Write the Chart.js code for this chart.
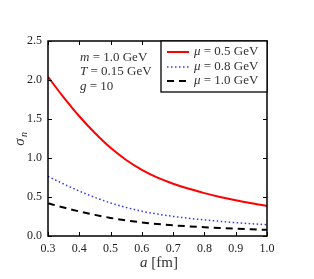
<!DOCTYPE html>
<html>
<head>
<meta charset="utf-8">
<script src="https://cdn.jsdelivr.net/npm/chart.js@4/dist/chart.umd.min.js"></script>
<style>
  html, body { margin: 0; padding: 0; background: #fff; }
</style>
</head>
<body>
<canvas id="c" width="314" height="279"></canvas>
<script>
// a [fm] sample points
const aValues = [0.3, 0.35, 0.4, 0.45, 0.5, 0.55, 0.6, 0.65, 0.7, 0.75, 0.8, 0.85, 0.9, 0.95, 1.0];
// sigma_n
const sigmaMu05 = [2.04, 1.778, 1.535, 1.32, 1.13, 0.975, 0.848, 0.748, 0.67, 0.605, 0.55, 0.50, 0.457, 0.419, 0.385];
const sigmaMu08 = [0.765, 0.667, 0.576, 0.495, 0.424, 0.366, 0.318, 0.281, 0.251, 0.227, 0.206, 0.188, 0.171, 0.157, 0.145];
const sigmaMu10 = [0.42, 0.365, 0.315, 0.271, 0.232, 0.20, 0.174, 0.153, 0.137, 0.124, 0.113, 0.103, 0.094, 0.086, 0.079];
const muLabels = ["0.5", "0.8", "1.0"];
const xTicks = [0.3, 0.4, 0.5, 0.6, 0.7, 0.8, 0.9, 1.0];
const yTicks = [0.0, 0.5, 1.0, 1.5, 2.0, 2.5];

const SERIF = '"Liberation Serif", "DejaVu Serif", serif';

function toPoints(ys) {
  return aValues.map((a, i) => ({ x: a, y: ys[i] }));
}

// draw text made of [string, italic] parts, left aligned
function drawParts(ctx, parts, x, y, size) {
  let cx = x;
  parts.forEach(([s, it]) => {
    ctx.font = (it ? "italic " : "") + size + "px " + SERIF;
    ctx.fillText(s, cx, y);
    cx += ctx.measureText(s).width;
  });
  return cx;
}

const decorations = {
  id: "decorations",
  afterDatasetsDraw(chart) {
    const ctx = chart.ctx;
    const area = chart.chartArea;
    const xs = chart.scales.x;
    const ys = chart.scales.y;
    ctx.save();

    // inner ticks on all four sides
    ctx.strokeStyle = "#000";
    ctx.lineWidth = 1;
    xTicks.forEach(v => {
      const px = Math.round(xs.getPixelForValue(v)) + 0.5;
      ctx.beginPath();
      ctx.moveTo(px, area.bottom); ctx.lineTo(px, area.bottom - 4);
      ctx.moveTo(px, area.top); ctx.lineTo(px, area.top + 4);
      ctx.stroke();
    });
    yTicks.forEach(v => {
      const py = Math.round(ys.getPixelForValue(v)) + 0.5;
      ctx.beginPath();
      ctx.moveTo(area.left, py); ctx.lineTo(area.left + 4, py);
      ctx.moveTo(area.right, py); ctx.lineTo(area.right - 4, py);
      ctx.stroke();
    });

    // frame
    ctx.lineWidth = 1.5;
    ctx.strokeRect(area.left, area.top, area.right - area.left, area.bottom - area.top);

    // parameter text
    ctx.fillStyle = "#333";
    ctx.textBaseline = "middle";
    drawParts(ctx, [["m", true], [" = 1.0 GeV", false]], 80, 58, 13);
    drawParts(ctx, [["T", true], [" = 0.15 GeV", false]], 80, 72, 13);
    drawParts(ctx, [["g", true], [" = 10", false]], 80, 87, 13);

    // legend box
    const lx = 161, ly = area.top, lw = area.right - 161, lh = 51;
    ctx.fillStyle = "#fff";
    ctx.fillRect(lx, ly, lw, lh);
    ctx.strokeStyle = "#000";
    ctx.lineWidth = 1.3;
    ctx.strokeRect(lx, ly, lw, lh);
    const rows = [52, 67, 81];
    chart.data.datasets.forEach((ds, i) => {
      ctx.strokeStyle = ds.borderColor;
      ctx.lineWidth = ds.borderWidth;
      ctx.setLineDash(ds.borderDash || []);
      ctx.beginPath();
      ctx.moveTo(167, rows[i]);
      ctx.lineTo(189, rows[i]);
      ctx.stroke();
      ctx.setLineDash([]);
      ctx.fillStyle = "#333";
      drawParts(ctx, [["\u03bc", true], [" = " + muLabels[i] + " GeV", false]], 194, rows[i], 13);
    });

    // axis titles
    ctx.fillStyle = "#333";
    ctx.textBaseline = "middle";
    drawParts(ctx, [["a", true], [" [fm]", false]], 140, 263, 15);
    ctx.translate(20, 140);
    ctx.rotate(-Math.PI / 2);
    ctx.font = "italic 15px " + SERIF;
    ctx.textAlign = "center";
    ctx.fillText("\u03c3", -2, 0);
    ctx.font = "italic 10px " + SERIF;
    ctx.textAlign = "left";
    ctx.fillText("n", 3, 4);
    ctx.restore();
  }
};

new Chart(document.getElementById("c"), {
  type: "line",
  data: {
    datasets: [
      {
        label: "mu = 0.5 GeV",
        data: toPoints(sigmaMu05),
        borderColor: "#ff0000",
        borderWidth: 2,
        pointRadius: 0,
        cubicInterpolationMode: "monotone"
      },
      {
        label: "mu = 0.8 GeV",
        data: toPoints(sigmaMu08),
        borderColor: "#3333ff",
        borderWidth: 1.5,
        borderDash: [1.5, 2.5],
        pointRadius: 0,
        cubicInterpolationMode: "monotone"
      },
      {
        label: "mu = 1.0 GeV",
        data: toPoints(sigmaMu10),
        borderColor: "#000000",
        borderWidth: 2,
        borderDash: [7, 5],
        pointRadius: 0,
        cubicInterpolationMode: "monotone"
      }
    ]
  },
  options: {
    responsive: false,
    animation: false,
    layout: { padding: { top: 41, right: 47, left: 0, bottom: 0 } },
    plugins: {
      legend: { display: false },
      tooltip: { enabled: false }
    },
    scales: {
      x: {
        type: "linear",
        min: 0.3,
        max: 1.0,
        afterFit: s => { s.height = 43; },
        afterBuildTicks: s => { s.ticks = xTicks.map(v => ({ value: v })); },
        grid: { display: false, drawTicks: false },
        border: { display: false },
        ticks: {
          padding: 6,
          color: "#222",
          font: { family: SERIF, size: 12 },
          callback: v => v.toFixed(1)
        }
      },
      y: {
        min: 0,
        max: 2.5,
        afterFit: s => { s.width = 48; },
        afterBuildTicks: s => { s.ticks = yTicks.map(v => ({ value: v })); },
        grid: { display: false, drawTicks: false },
        border: { display: false },
        ticks: {
          padding: 6,
          color: "#222",
          font: { family: SERIF, size: 12 },
          callback: v => v.toFixed(1)
        }
      }
    }
  },
  plugins: [decorations]
});
</script>
</body>
</html>
